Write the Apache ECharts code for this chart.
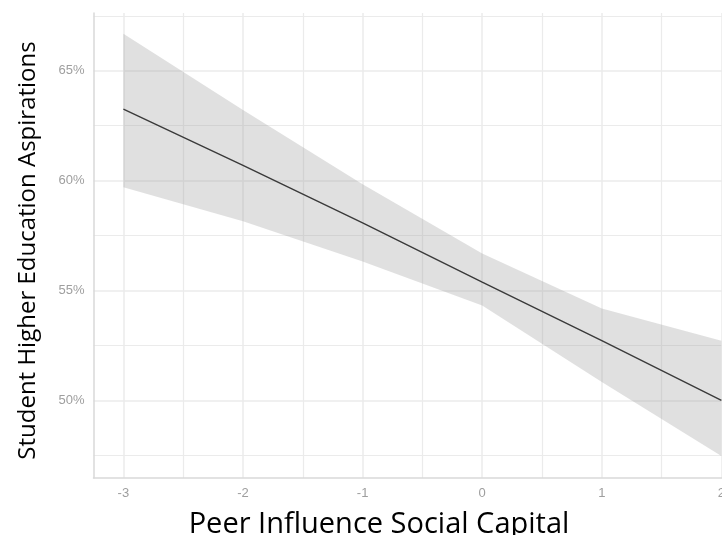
<!DOCTYPE html>
<html>
<head>
<meta charset="utf-8">
<script src="https://cdn.jsdelivr.net/npm/echarts@6/dist/echarts.min.js"></script>
<style>
  html, body { margin: 0; padding: 0; background: #ffffff; }
  #chart { width: 722px; height: 535px; }
</style>
</head>
<body>
<div id="chart"></div>
<script>
// Predicted aspirations (%) across peer influence social capital (z-score)
const peerInfluence = [-3, -2, -1, 0, 1, 2];
const predicted     = [63.26, 60.70, 58.08, 55.38, 52.72, 50.00];
const ciLower       = [59.70, 58.15, 56.32, 54.32, 50.84, 47.47];
const ciUpper       = [66.69, 63.22, 59.84, 56.69, 54.18, 52.72];

// Axis ticks and grid positions
const xTicks = [-3, -2, -1, 0, 1, 2];
const xMinorGrid = [-2.5, -1.5, -0.5, 0.5, 1.5];
const yTicks = [50, 55, 60, 65];
const yMinorGrid = [47.5, 52.5, 57.5, 62.5, 67.5];

const xTitle = 'Peer Influence Social Capital';
const yTitle = 'Student Higher Education Aspirations';

const gridColor = '#ebebeb';
const tickFont = { fontFamily: 'Liberation Sans, Arial, sans-serif', fontSize: 13, color: '#9e9e9e' };

const pairs = (xs, ys) => xs.map((x, i) => [x, ys[i]]);

const gridLines = []
  .concat(xTicks.map(v => ({ xAxis: v, lineStyle: { width: 1.5 } })))
  .concat(xMinorGrid.map(v => ({ xAxis: v, lineStyle: { width: 1.2 } })))
  .concat(yTicks.map(v => ({ yAxis: v, lineStyle: { width: 1.5 } })))
  .concat(yMinorGrid.map(v => ({ yAxis: v, lineStyle: { width: 1.2 } })));

// Confidence band as one polygon: upper edge left-to-right, lower edge back
function renderBand(params, api) {
  const pts = [];
  for (let i = 0; i < peerInfluence.length; i++) {
    pts.push(api.coord([peerInfluence[i], ciUpper[i]]));
  }
  for (let i = peerInfluence.length - 1; i >= 0; i--) {
    pts.push(api.coord([peerInfluence[i], ciLower[i]]));
  }
  return {
    type: 'polygon',
    shape: { points: pts },
    style: { fill: 'rgba(153,153,153,0.3)', stroke: null }
  };
}

const chart = echarts.init(document.getElementById('chart'), null, { renderer: 'canvas' });

chart.setOption({
  animation: false,
  backgroundColor: '#ffffff',
  grid: { left: 93.5, top: 13, right: 0, height: 465, containLabel: false, outerBoundsMode: 'none' },
  xAxis: {
    type: 'value',
    min: -3.25,
    max: 2.005,
    splitLine: { show: false },
    axisTick: { show: false },
    axisLine: { show: true, onZero: false, lineStyle: { color: '#d9d9d9', width: 1.5 } },
    axisLabel: Object.assign({ margin: 9, customValues: xTicks, formatter: v => String(v) }, tickFont)
  },
  yAxis: {
    type: 'value',
    min: 46.47,
    max: 67.63,
    splitLine: { show: false },
    axisTick: { show: false },
    axisLine: { show: true, onZero: false, lineStyle: { color: '#d9d9d9', width: 1.5 } },
    axisLabel: Object.assign({ margin: 9, customValues: yTicks, formatter: v => v + '%' }, tickFont)
  },
  series: [
    {
      name: 'grid',
      type: 'line',
      data: [],
      z: 0,
      silent: true,
      markLine: {
        z: 0,
        silent: true,
        symbol: ['none', 'none'],
        label: { show: false },
        lineStyle: { color: gridColor, type: 'solid' },
        emphasis: { disabled: true },
        data: gridLines
      }
    },
    {
      name: 'band',
      type: 'custom',
      data: [[peerInfluence[0], ciLower[0]]],
      renderItem: renderBand,
      clip: true,
      z: 2,
      silent: true
    },
    {
      name: 'fit',
      type: 'line',
      data: pairs(peerInfluence, predicted),
      symbol: 'none',
      lineStyle: { color: '#3a3a3a', width: 1.4 },
      z: 3,
      silent: true
    }
  ],
  graphic: [
    {
      type: 'text',
      x: 379, y: 524.5,
      z: 10,
      style: {
        text: xTitle,
        font: '29px "Open Sans", sans-serif',
        fill: '#000000',
        align: 'center',
        verticalAlign: 'middle'
      }
    },
    {
      type: 'text',
      x: 28.5, y: 250.5,
      rotation: Math.PI / 2,
      z: 10,
      style: {
        text: yTitle,
        font: '24px "Open Sans", sans-serif',
        fill: '#000000',
        align: 'center',
        verticalAlign: 'middle'
      }
    }
  ]
});
</script>
</body>
</html>
